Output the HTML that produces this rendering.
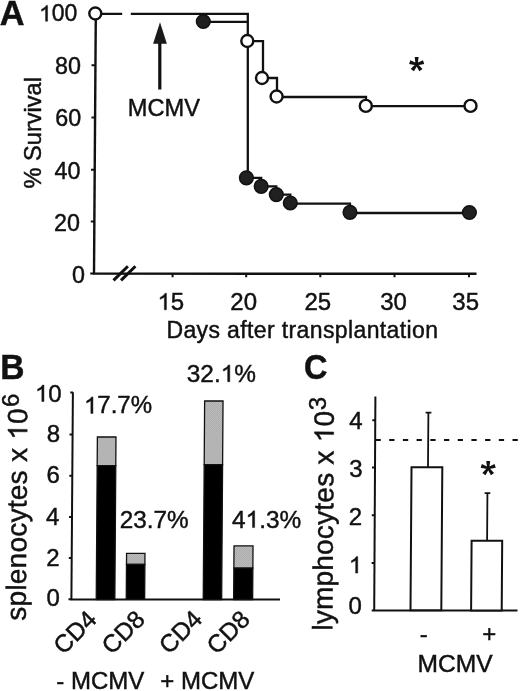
<!DOCTYPE html>
<html><head><meta charset="utf-8">
<style>
html,body{margin:0;padding:0;background:#fff;width:520px;height:691px;overflow:hidden}
svg{display:block;will-change:transform}
text{font-family:"Liberation Sans",sans-serif;fill:#111;stroke:#111;stroke-width:0.45px}
.b{font-weight:bold}
</style></head>
<body>
<svg width="520" height="691" viewBox="0 0 520 691">
<defs><pattern id="st" width="2" height="2" patternUnits="userSpaceOnUse"><rect width="2" height="2" fill="#c8c8c8"/><rect width="1" height="1" fill="#a0a0a0"/><rect x="1" y="1" width="1" height="1" fill="#a0a0a0"/></pattern><path id="one" d="M763 0L583 0L583 1098Q518 1039 413 980Q308 920 223 890L223 1057Q376 1126 490 1223Q604 1321 651 1409L763 1409Z" fill="#111" stroke="#111" stroke-width="0.45" vector-effect="non-scaling-stroke"/></defs>
<rect width="520" height="691" fill="#fff"/>
<!-- ================= PANEL A ================= -->
<text class="b" transform="translate(-0.2,24.9)" font-size="34.3">A</text>
<g stroke="#111" stroke-width="2.4" fill="none">
  <!-- y axis -->
  <line x1="95.8" y1="13.5" x2="94" y2="274"/>
  <!-- x axis -->
  <line x1="92.8" y1="273.6" x2="476.5" y2="273.8"/>
  <!-- y ticks -->
  <path d="M91.5 65.3H95 M91.5 117.5H95 M91 169.7H95 M90.8 221.4H95 M90.2 273.5H94" stroke-width="2"/>
  <!-- x ticks -->
  <path d="M172.6 273.5V277.2 M246.2 273.5V277.2 M320.3 273.5V277.2 M394.5 273.5V277.2 M469 273.5V277.2" stroke-width="2"/>
  <!-- break marks -->
  <path d="M113.5 280.4L127.9 266.3 M121 280.4L135.4 266.3" stroke-width="3"/>
</g>
<g font-size="23">
  <text x="39" y="21.2">&#8199;00</text>
  <text x="55" y="73.6" font-size="23.3">80</text>
  <text x="55.2" y="125.7" font-size="23.3">60</text>
  <text x="54.5" y="178.5" font-size="23.3">40</text>
  <text x="54" y="230.8" font-size="23.3">20</text>
  <text x="72" y="282.7" font-size="23.3">0</text>
  <text x="157.5" y="309.8" font-size="24">&#8199;5</text>
  <text x="230.3" y="309.8" font-size="24">20</text>
  <text x="304.5" y="309.8" font-size="24">25</text>
  <text x="380.2" y="309.8" font-size="24">30</text>
  <text x="452.3" y="309.8" font-size="24">35</text>
  <text x="166.4" y="338.4" textLength="271.6" lengthAdjust="spacing">Days after transplantation</text>
  <text x="127.8" y="116" font-size="23.6">MCMV</text>
  <text transform="translate(41.3,188.5) rotate(-90)" x="0" y="0" font-size="23.6">% Survival</text>
</g>
<!-- arrow -->
<path d="M160 22.3L153.1 43.8H166.9Z" fill="#1a1a1a"/>
<line x1="159.8" y1="43" x2="159.8" y2="89.5" stroke="#111" stroke-width="3.2"/>
<!-- asterisk A -->
<path d="M417.65 64.90L418.60 57.00L414.70 57.00L415.65 64.90ZM416.39 65.44L424.20 63.90L422.99 60.19L415.77 63.53ZM415.49 64.40L419.36 71.35L422.52 69.06L417.11 63.23ZM416.19 63.23L410.78 69.06L413.94 71.35L417.81 64.40ZM417.53 63.53L410.31 60.19L409.10 63.90L416.91 65.44Z" fill="#111"/>
<!-- survival lines -->
<g stroke="#111" stroke-width="2.3" fill="none">
  <path d="M95.5 13.8H122.2 M130.8 13.8H247.8V177.5"/>
  <path d="M203.3 21.8H247.3"/>
  <path d="M247.3 41.2H263V78H277V97H366V106.1H470.5"/>
  <path d="M246.4 177.8H261.2V186.3H276.3V194.6H290.3V203.6H350V213H469.4"/>
</g>
<g stroke="#111" stroke-width="2.4" fill="#fff">
  <circle cx="95.3" cy="13.5" r="6"/>
  <circle cx="247.3" cy="41" r="6"/>
  <circle cx="262" cy="78" r="6"/>
  <circle cx="276.6" cy="96.5" r="6"/>
  <circle cx="365.8" cy="105.9" r="6"/>
  <circle cx="470.5" cy="105.9" r="6"/>
</g>
<g stroke="#111" stroke-width="1.5" fill="#202020">
  <circle cx="203.3" cy="21.5" r="6.85"/>
  <circle cx="246.4" cy="177.8" r="6.85"/>
  <circle cx="261.2" cy="186.3" r="6.85"/>
  <circle cx="276.3" cy="194.6" r="6.85"/>
  <circle cx="290.3" cy="203" r="6.85"/>
  <circle cx="350" cy="212.3" r="6.85"/>
  <circle cx="469.4" cy="212.5" r="6.85"/>
</g>

<!-- ================= PANEL B ================= -->
<text class="b" transform="translate(0.3,378.5) scale(0.96,1)" font-size="35">B</text>
<g stroke="#111" stroke-width="2" fill="none">
  <line x1="72.9" y1="392.3" x2="71.4" y2="600"/>
  <line x1="70.5" y1="599.6" x2="280" y2="599.6"/>
  <path d="M70.3 392.6H73 M69.5 434.6H72.6 M69.3 475.7H72.3 M69 516.9H72 M68.8 557.9H71.6 M68.5 599.2H71.4"/>
</g>
<g font-size="24">
  <text x="35" y="401.5">&#8199;0</text>
  <text x="46.7" y="441.8">8</text>
  <text x="46.5" y="483.4">6</text>
  <text x="46" y="525">4</text>
  <text x="46.3" y="566">2</text>
  <text x="46.5" y="606.3">0</text>
  <text x="84" y="413.4">&#8199;7.7%</text>
  <text x="186.8" y="381.7" font-size="24.4">32.&#8199;%</text>
  <text x="119.7" y="527.5" font-size="24.3">23.7%</text>
  <text x="232" y="527.6" font-size="24.4">4&#8199;.3%</text>
  <text x="56.3" y="688.5">- MCMV</text>
  <text x="160.3" y="688.5">+ MCMV</text>
</g>
<g font-size="24.5">
  <text transform="translate(63.6,655.5) rotate(-45)">CD4</text>
  <text transform="translate(111.7,655.5) rotate(-45)">CD8</text>
  <text transform="translate(168.9,655.3) rotate(-45)">CD4</text>
  <text transform="translate(216.8,655.6) rotate(-45)">CD8</text>
</g>
<text transform="translate(25.7,620.8) rotate(-89.55)" font-size="28" textLength="212.4" lengthAdjust="spacing">splenocytes x &#8199;0</text>
<text transform="translate(19.2,407) rotate(-90)" font-size="24">6</text>
<!-- bars -->
<g stroke="#111" stroke-width="1.3" transform="translate(3.63,0) skewX(-0.4)">
  <rect x="96.8" y="437" width="18.6" height="28.6" fill="url(#st)"/>
  <rect x="96.8" y="465.6" width="18.6" height="134" fill="#000"/>
  <rect x="126.8" y="553.4" width="18.4" height="11" fill="url(#st)"/>
  <rect x="126.8" y="564.4" width="18.4" height="35" fill="#000"/>
  <rect x="203.8" y="401" width="18.4" height="63.6" fill="url(#st)"/>
  <rect x="203.8" y="464.6" width="18.4" height="135" fill="#000"/>
  <rect x="234.2" y="545.8" width="19" height="22.3" fill="url(#st)"/>
  <rect x="234.2" y="568.1" width="19" height="31.4" fill="#000"/>
</g>

<!-- ================= PANEL C ================= -->
<text class="b" transform="translate(304,378.7) scale(0.915,1)" font-size="35.5">C</text>
<g stroke="#111" stroke-width="2" fill="none">
  <line x1="375.4" y1="396.5" x2="374.2" y2="611"/>
  <line x1="371.7" y1="610.4" x2="517.5" y2="610.4"/>
  <path d="M372.3 420.2H375 M372 467.5H375 M371.8 515.3H374.6 M371.6 563H374.5"/>
  <line x1="375.5" y1="440" x2="520" y2="440" stroke-dasharray="5.3 8.4"/>
</g>
<g stroke="#111" stroke-width="2" fill="none" transform="translate(3.77,0) skewX(-0.4)">
  <rect x="411" y="467.2" width="30.8" height="143" fill="#fff"/>
  <rect x="471.6" y="540.7" width="30.6" height="69.7" fill="#fff"/>
  <path d="M427.5 467.2V412.7 M424.7 412.7H430.5 M487.1 540.7V493.2 M484.3 493.2H490" stroke-width="1.8"/>
</g>
<g font-size="24">
  <text x="349.3" y="428.6">4</text>
  <text x="349.2" y="477">3</text>
  <text x="348.8" y="525.1">2</text>
  <text x="348.8" y="573.1">&#8199;</text>
  <text x="348.6" y="613.5">0</text>
  <text x="419.7" y="642.2">-</text>
  <text x="482.2" y="641.5">+</text>
  <text x="417.5" y="671.5" font-size="24.6">MCMV</text>
</g>
<path d="M489.20 468.80L490.15 460.90L486.25 460.90L487.20 468.80ZM487.94 469.34L495.75 467.80L494.54 464.09L487.32 467.43ZM487.04 468.30L490.91 475.25L494.07 472.96L488.66 467.13ZM487.74 467.13L482.33 472.96L485.49 475.25L489.36 468.30ZM489.08 467.43L481.86 464.09L480.65 467.80L488.46 469.34Z" fill="#111"/>
<text transform="translate(332.3,630.8) rotate(-89.6)" font-size="28" textLength="219.8" lengthAdjust="spacing">lymphocytes x &#8199;0</text>
<text transform="translate(326.3,410.3) rotate(-90)" font-size="24">3</text>
<g><use href="#one" transform=" translate(39.00,21.20) scale(0.01123,-0.01123)"/>
<use href="#one" transform=" translate(157.50,309.80) scale(0.01172,-0.01172)"/>
<use href="#one" transform=" translate(35.00,401.50) scale(0.01172,-0.01172)"/>
<use href="#one" transform=" translate(84.00,413.40) scale(0.01172,-0.01172)"/>
<use href="#one" transform=" translate(220.71,381.70) scale(0.01191,-0.01191)"/>
<use href="#one" transform=" translate(245.56,527.60) scale(0.01191,-0.01191)"/>
<use href="#one" transform="translate(25.7,620.8) rotate(-89.55) translate(180.99,0.00) scale(0.01367,-0.01367)"/>
<use href="#one" transform=" translate(348.80,573.10) scale(0.01172,-0.01172)"/>
<use href="#one" transform="translate(332.3,630.8) rotate(-89.6) translate(188.42,0.00) scale(0.01367,-0.01367)"/></g>
</svg>
</body></html>
